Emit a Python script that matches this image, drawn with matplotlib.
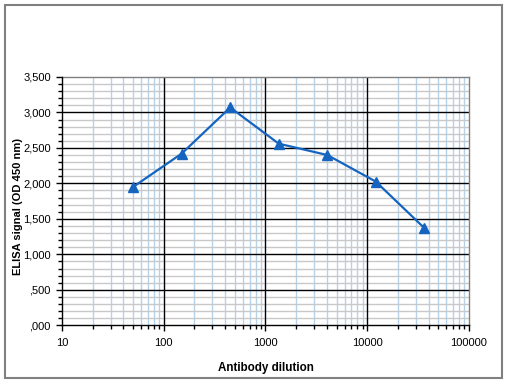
import matplotlib
matplotlib.use('Agg')
import matplotlib.pyplot as plt
from matplotlib.ticker import LogLocator, MultipleLocator, FuncFormatter, NullFormatter
from matplotlib.patches import Rectangle

plt.rcParams['font.family'] = ['Liberation Sans', 'DejaVu Sans']

dilution = [50, 150, 450, 1350, 4050, 12150, 36450]
signal = [1950, 2420, 3070, 2560, 2400, 2025, 1370]

x_ticks = [10, 100, 1000, 10000, 100000]
y_ticks = [0, 500, 1000, 1500, 2000, 2500, 3000, 3500]

line_color = '#1464c0'

fig = plt.figure(figsize=(5.09, 3.84), dpi=100)
ax = fig.add_axes([0.1218, 0.1529, 0.7996, 0.6466])

ax.plot(dilution, signal, color=line_color, linewidth=1.6, marker='^',
        markersize=7, markerfacecolor=line_color, markeredgecolor=line_color, zorder=5)

ax.set_xscale('log')
ax.set_xlim(x_ticks[0], x_ticks[-1])
ax.set_ylim(y_ticks[0], y_ticks[-1])

ax.xaxis.set_minor_locator(LogLocator(base=10, subs=range(2, 10)))
ax.xaxis.set_minor_formatter(NullFormatter())
ax.set_xticks(x_ticks)
ax.xaxis.set_major_formatter(FuncFormatter(lambda v, p: f'{int(round(v))}'))

ax.set_yticks(y_ticks)
ax.yaxis.set_minor_locator(MultipleLocator(100))


def yfmt(v, p):
    if v < 1000:
        return ',' + f'{int(round(v)):03d}'
    return f'{int(round(v)):,}'


ax.yaxis.set_major_formatter(FuncFormatter(yfmt))

# minor grid
ax.xaxis.grid(True, which='minor', color='#b4d2ec', linewidth=1.0)
ax.yaxis.grid(True, which='minor', color='#c8c8c8', linewidth=1.0)
ax.set_axisbelow(True)

# major grid on top of the minor one
for xv in x_ticks[1:-1]:
    ax.axvline(xv, color='black', linewidth=1.0, zorder=2)
for yv in y_ticks[1:-1]:
    ax.axhline(yv, color='black', linewidth=1.0, zorder=2)

ax.tick_params(axis='both', which='major', direction='out', length=4, width=1,
               labelsize=8, colors='black')
ax.tick_params(axis='both', which='minor', direction='out', length=3, width=1)
ax.tick_params(axis='x', which='major', pad=5)
ax.tick_params(axis='y', which='major', pad=4)

for side in ['left', 'bottom']:
    ax.spines[side].set_color('black')
    ax.spines[side].set_linewidth(1.0)
    ax.spines[side].set_zorder(3)
for side in ['top', 'right']:
    ax.spines[side].set_color('#808080')
    ax.spines[side].set_linewidth(1.0)

ax.set_xlabel('Antibody dilution', fontsize=8.4, fontweight='bold')
ax.set_ylabel('ELISA signal (OD 450 nm)', fontsize=8, fontweight='bold')
ax.xaxis.set_label_coords(0.5, -0.148)
ax.yaxis.set_label_coords(-0.097, 0.478)

# outer chart frame
fig.patches.append(Rectangle((5 / 509, 6 / 384), 497 / 509, 373 / 384,
                             transform=fig.transFigure, fill=False,
                             edgecolor='#808080', linewidth=1.5))

fig.savefig('out.png', dpi=100)
